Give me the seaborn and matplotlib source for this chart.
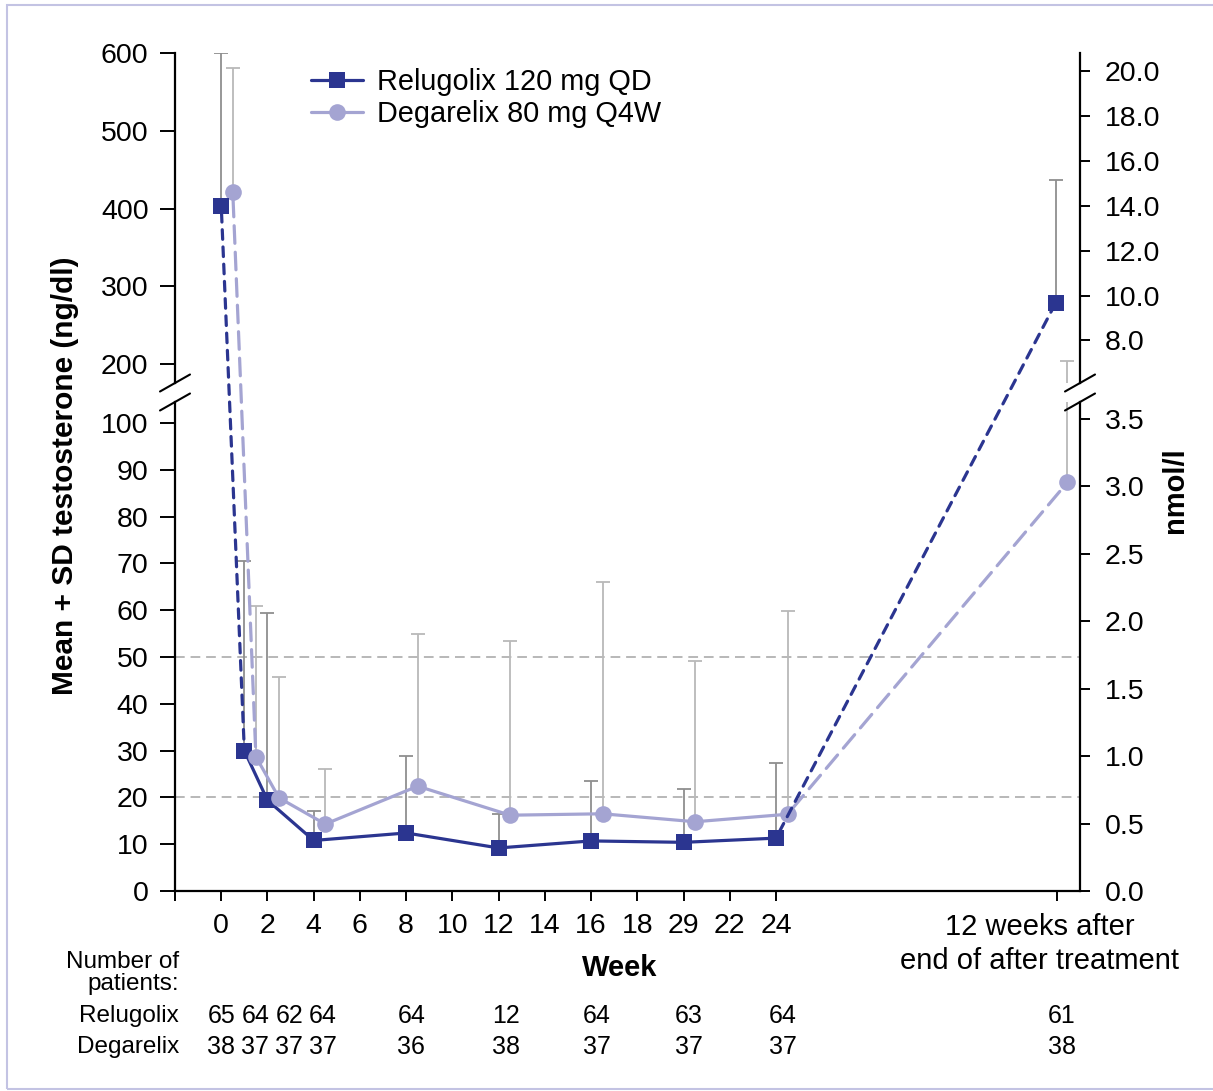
import numpy as np
import pandas as pd
import seaborn as sns
import matplotlib.pyplot as plt
import matplotlib.transforms as mtransforms
from matplotlib.lines import Line2D
from matplotlib.patches import ConnectionPatch, Rectangle

# visit weeks; the last one is the follow-up visit (12 weeks after end of treatment)
weeks = [0, 1, 2, 4, 8, 12, 16, 20, 24, 36.1]
tick_weeks = [-2, 0, 2, 4, 6, 8, 10, 12, 14, 16, 18, 20, 22, 24]
tick_labels = ['', '0', '2', '4', '6', '8', '10', '12', '14', '16', '18', '29', '22', '24']
follow_up_label = '12 weeks after\nend of after treatment'

# mean and SD testosterone (ng/dl)
relugolix_mean = [404, 30.0, 19.4, 10.8, 12.4, 9.2, 10.7, 10.4, 11.3, 279]
relugolix_sd = [196, 40.5, 40.1, 6.4, 16.4, 7.2, 12.9, 11.4, 16.0, 158]
degarelix_mean = [421, 28.7, 19.9, 14.3, 22.4, 16.2, 16.5, 14.8, 16.4, 87.3]
degarelix_sd = [160, 32.1, 25.8, 11.7, 32.5, 37.3, 49.5, 34.3, 43.5, 116.7]

# number of patients per visit
relugolix_n = [65, 64, 62, 64, 64, 12, 64, 63, 64, 61]
degarelix_n = [38, 37, 37, 37, 36, 38, 37, 37, 37, 38]

NG_PER_NMOL = 28.84

RELU = '#2b3590'
DEGA = '#a4a4d2'
RELU_ERR = '#8f8f8f'
DEGA_ERR = '#b9b9b9'

# --- long-form table for seaborn ---
df = pd.concat([
    pd.DataFrame({'week': weeks, 'x': weeks, 'mean': relugolix_mean,
                  'sd': relugolix_sd, 'arm': 'Relugolix'}),
    pd.DataFrame({'week': weeks, 'x': [w + 0.5 for w in weeks], 'mean': degarelix_mean,
                  'sd': degarelix_sd, 'arm': 'Degarelix'}),
], ignore_index=True)

sns.set_style('ticks')
plt.rcParams['font.family'] = ['Liberation Sans', 'DejaVu Sans']
plt.rcParams['axes.edgecolor'] = 'black'
plt.rcParams['xtick.color'] = 'black'
plt.rcParams['ytick.color'] = 'black'
plt.rcParams['text.color'] = 'black'

W, H = 1213, 1091
fig = plt.figure(figsize=(W / 100, H / 100), dpi=100)


def px_axes(x0, y0, x1, y1):
    # box in pixels, y measured from the top
    return fig.add_axes([x0 / W, 1 - y1 / H, (x1 - x0) / W, (y1 - y0) / H])


ax_top = px_axes(175, 53, 1080, 383)
ax_bot = px_axes(175, 402, 1080, 891)

colors = {'Relugolix': RELU, 'Degarelix': DEGA}
markers = {'Relugolix': 's', 'Degarelix': 'o'}
err_colors = {'Relugolix': RELU_ERR, 'Degarelix': DEGA_ERR}
dash = {'Relugolix': (3.0, 2.4), 'Degarelix': (5.5, 2.8)}
MS = 12
LW = 2.3
FS = 20.5

# error bars (mean + SD only), drawn in both panels and clipped
for ax in (ax_top, ax_bot):
    for arm, g in df.groupby('arm'):
        ax.errorbar(g['x'], g['mean'], yerr=[np.zeros(len(g)), g['sd']], fmt='none',
                    ecolor=err_colors[arm], elinewidth=1.3, capsize=5, capthick=1.3, zorder=1)

# solid part: weeks 1-24
solid = df[(df['week'] >= 1) & (df['week'] <= 24)]
sns.lineplot(data=solid, x='x', y='mean', hue='arm', style='arm', palette=colors,
             markers=markers, dashes=False, markersize=MS, markeredgewidth=0,
             linewidth=LW, estimator=None, sort=False, legend=False, ax=ax_bot, zorder=3)

# baseline and follow-up markers
for ax in (ax_top, ax_bot):
    for arm, g in df.groupby('arm'):
        ends = g[(g['week'] == 0) | (g['week'] > 24)]
        ax.plot(ends['x'], ends['mean'], ls='none', marker=markers[arm], ms=MS,
                mew=0, color=colors[arm], zorder=3)


# dashed segments, may cross the axis break
def panel_of(y):
    return ax_bot if y <= 104 else ax_top


for arm, g in df.groupby('arm'):
    g = g.set_index('week')
    for wa, wb in [(0, 1), (24, 36.1)]:
        xa, ya = g.loc[wa, 'x'], g.loc[wa, 'mean']
        xb, yb = g.loc[wb, 'x'], g.loc[wb, 'mean']
        con = ConnectionPatch(xyA=(xa, ya), coordsA=panel_of(ya).transData,
                              xyB=(xb, yb), coordsB=panel_of(yb).transData,
                              color=colors[arm], lw=LW, linestyle=(0, dash[arm]),
                              shrinkA=5, shrinkB=5, zorder=2)
        fig.add_artist(con)

# reference lines
for yref in (20, 50):
    ax_bot.axhline(yref, color='#b8b8b8', lw=1.4, ls=(0, (5, 3)), zorder=0)

# axes limits and ticks
ax_top.set_ylim(176, 600)
ax_bot.set_ylim(0, 104.5)
for ax in (ax_top, ax_bot):
    ax.set_xlim(-2, 37.15)
    ax.spines['top'].set_visible(False)
    ax.spines['right'].set_visible(False)
    ax.spines['left'].set_linewidth(1.6)
    ax.tick_params(axis='y', length=11, width=1.4, labelsize=FS, pad=8)
    ax.set_xlabel('')
    ax.set_ylabel('')
ax_top.spines['bottom'].set_visible(False)
ax_top.set_xticks([])
ax_top.set_yticks([200, 300, 400, 500, 600])
ax_bot.set_yticks(range(0, 101, 10))
ax_bot.spines['bottom'].set_linewidth(1.6)
ax_bot.set_xticks(tick_weeks + [36.15])
ax_bot.set_xticklabels(tick_labels + [''])
ax_bot.tick_params(axis='x', length=7, width=1.4, labelsize=FS, pad=9)

# right axis in nmol/l
to_nmol = (lambda v: v / NG_PER_NMOL, lambda v: v * NG_PER_NMOL)
sec_top = ax_top.secondary_yaxis('right', functions=to_nmol)
sec_bot = ax_bot.secondary_yaxis('right', functions=to_nmol)
sec_top.set_yticks(np.arange(8, 20.1, 2))
sec_bot.set_yticks(np.arange(0, 3.51, 0.5))
for sec in (sec_top, sec_bot):
    sec.yaxis.set_major_formatter('{x:.1f}')
    sec.spines['right'].set_linewidth(1.6)
    sec.tick_params(length=7, width=1.4, labelsize=FS, pad=11)

# break marks on both spines
dx = 15 / 905
for ax, yb, dy in [(ax_top, 0, 8.5 / 330), (ax_bot, 1, 8.5 / 489)]:
    for xb in (0, 1):
        ax.plot([xb - dx, xb + dx], [yb - dy, yb + dy], transform=ax.transAxes,
                color='black', lw=1.5, clip_on=False)

# follow-up label under the axis
ax_bot.annotate(follow_up_label, xy=(35.4, 0), xycoords=('data', 'axes fraction'),
                xytext=(0, -16), textcoords='offset points', ha='center', va='top',
                fontsize=21, linespacing=1.25)

# axis titles
fig.text(65 / W, 1 - 476 / H, 'Mean + SD testosterone (ng/dl)', rotation=90,
         ha='center', va='center', fontsize=21.5, fontweight='bold')
fig.text(1175 / W, 1 - 490 / H, 'nmol/l', rotation=90, ha='center', va='center',
         fontsize=21, fontweight='bold')
fig.text(620 / W, 1 - 968 / H, 'Week', ha='center', va='center', fontsize=21,
         fontweight='bold')

# legend
handles = [Line2D([], [], color=RELU, marker='s', ms=MS, mew=0, lw=LW),
           Line2D([], [], color=DEGA, marker='o', ms=MS, mew=0, lw=LW)]
fig.legend(handles, ['Relugolix 120 mg QD', 'Degarelix 80 mg Q4W'], loc='upper left',
           bbox_to_anchor=(311 / W, 1 - 68 / H), frameon=False, fontsize=20.8,
           handlelength=1.8, handletextpad=0.5, labelspacing=0.15, borderpad=0,
           borderaxespad=0)

# number of patients table
n_x = [0, 1.47, 2.94, 4.41, 8.22, 12.32, 16.26, 20.24, 24.3, 36.37]
tr = mtransforms.blended_transform_factory(ax_bot.transData, fig.transFigure)
fig.text(179 / W, 1 - 973 / H, 'Number of\npatients:', ha='right', va='center',
         fontsize=17.5, linespacing=0.95, multialignment='right')
for label, counts, ypx in [('Relugolix', relugolix_n, 1016), ('Degarelix', degarelix_n, 1047)]:
    fig.text(179 / W, 1 - ypx / H, label, ha='right', va='center', fontsize=17.5)
    for xv, c in zip(n_x, counts):
        ax_bot.text(xv, 1 - ypx / H, str(c), transform=tr, ha='center', va='center',
                    fontsize=18)

# light frame around the figure
fig.patches.append(Rectangle((7 / W, 2 / H), 1.0, 1 - 7 / H, transform=fig.transFigure,
                             fill=False, edgecolor='#c3c3e3', lw=1.5))

fig.savefig('out.png', dpi=100)
